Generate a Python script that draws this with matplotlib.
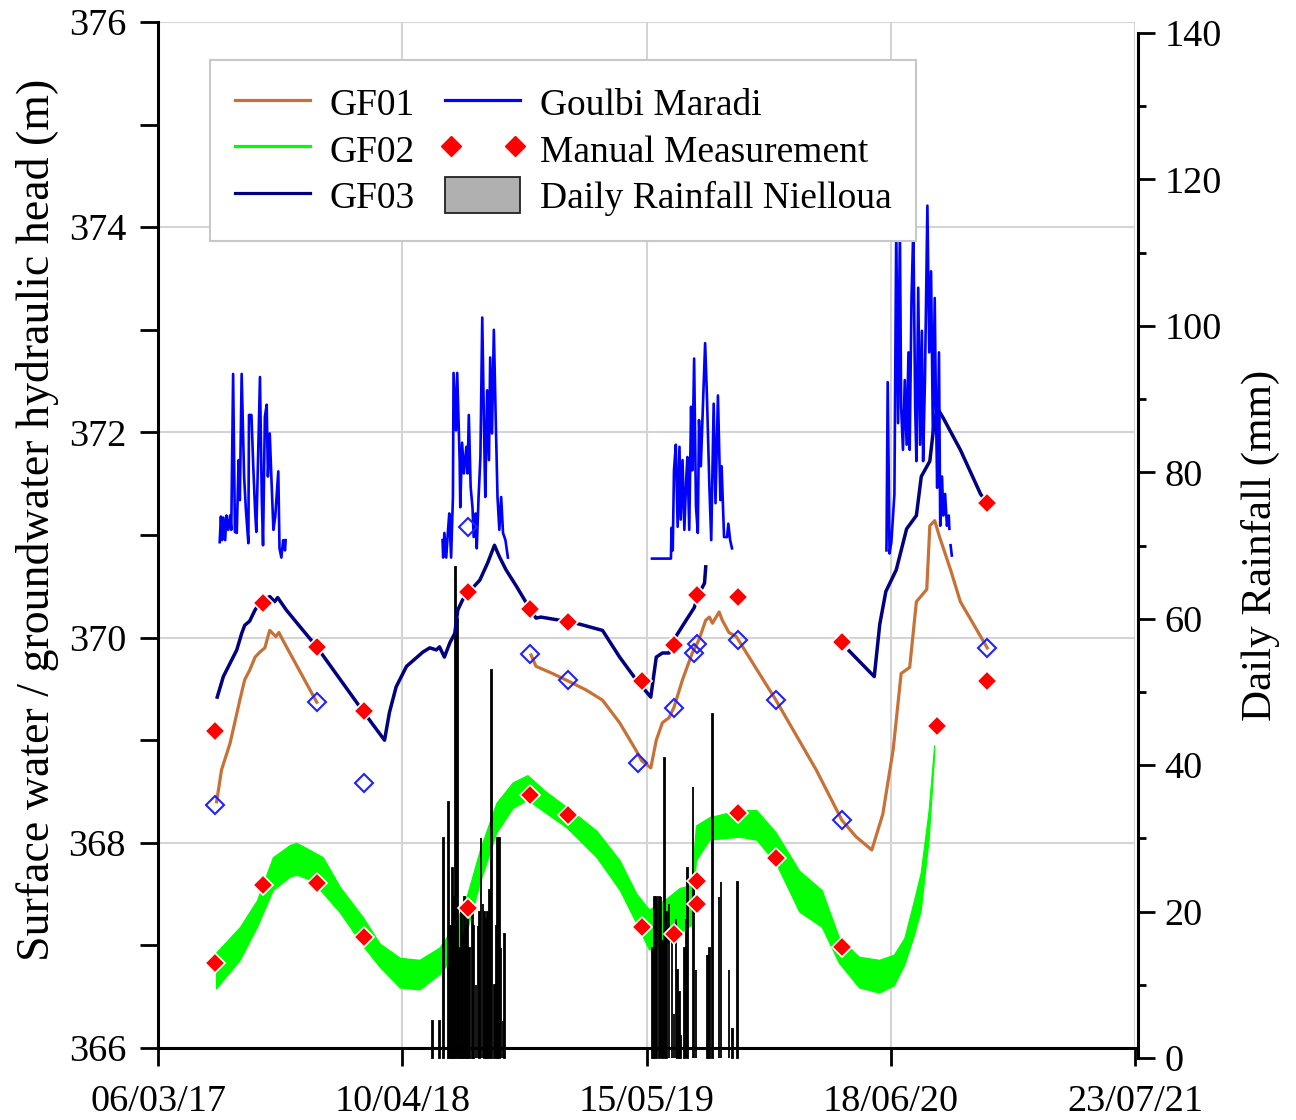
import numpy as np
import matplotlib
matplotlib.use('Agg')
import matplotlib.pyplot as plt
import matplotlib.dates as mdates
from matplotlib.ticker import MultipleLocator, FixedLocator
from matplotlib.lines import Line2D
from matplotlib.patches import Patch
from matplotlib.legend_handler import HandlerLine2D
import datetime as dt

plt.rcParams['font.family'] = ['Liberation Serif', 'DejaVu Serif']

# ---------------- data (days counted from 2017-03-06) ----------------
START = dt.date(2017, 3, 6)
x_tick_days = [0, 400, 800, 1200, 1600]
x_tick_labels = ['06/03/17', '10/04/18', '15/05/19', '18/06/20', '23/07/21']

# GF01 (two records)
gf01_a_days = [96, 104, 118, 134, 142, 150, 159, 167, 175, 180, 183, 188, 193, 198, 204, 260]
gf01_a_vals = [368.40, 368.71, 368.97, 369.39, 369.59, 369.68, 369.81, 369.86, 369.90, 370.01,
               370.07, 370.04, 370.01, 370.05, 369.98, 369.37]
gf01_b_days = [611, 619, 646, 674, 701, 728, 756, 783, 792, 807, 816, 826, 837, 845, 859, 875,
               886, 897, 903, 908, 914, 919, 924, 935, 947, 1012, 1078, 1120, 1143, 1169, 1187,
               1204, 1217, 1231, 1242, 1259, 1264, 1272, 1280, 1298, 1314, 1358]
gf01_b_vals = [369.83, 369.72, 369.65, 369.57, 369.49, 369.39, 369.17, 368.90, 368.80, 368.73,
               369.00, 369.17, 369.22, 369.32, 369.59, 369.85, 369.98, 370.17, 370.20, 370.14,
               370.20, 370.25, 370.17, 370.05, 370.01, 369.39, 368.71, 368.22, 368.06, 367.93,
               368.28, 368.91, 369.65, 369.71, 370.35, 370.47, 371.09, 371.14, 370.98, 370.66,
               370.35, 369.90]

# GF02 (daily fluctuating band: upper and lower envelope)
gf02_days = [95, 134, 162, 188, 216, 227, 249, 270, 298, 335, 363, 396, 428, 461, 486, 507, 527,
             554, 581, 605, 633, 669, 718, 756, 783, 804, 829, 854, 873, 881, 903, 952, 980, 1012,
             1050, 1087, 1115, 1148, 1181, 1205, 1222, 1238, 1249, 1262, 1271]
gf02_high = [366.93, 367.18, 367.44, 367.86, 367.98, 368.00, 367.93, 367.86, 367.57, 367.28,
             367.02, 366.88, 366.86, 366.98, 367.20, 367.51, 367.93, 368.39, 368.59, 368.66,
             368.51, 368.35, 368.12, 367.83, 367.51, 367.35, 367.44, 367.56, 367.59, 368.17,
             368.25, 368.32, 368.32, 368.10, 367.73, 367.54, 367.08, 366.89, 366.86, 366.91,
             367.07, 367.44, 367.71, 368.32, 368.95]
gf02_low = [366.58, 366.86, 367.18, 367.54, 367.67, 367.69, 367.64, 367.51, 367.32, 367.00,
            366.79, 366.59, 366.57, 366.72, 366.91, 367.17, 367.61, 368.10, 368.34, 368.42,
            368.30, 368.15, 367.86, 367.54, 367.22, 366.96, 367.00, 367.12, 367.20, 367.83,
            368.03, 368.06, 368.03, 367.80, 367.33, 367.18, 366.83, 366.59, 366.54, 366.61,
            366.81, 367.10, 367.34, 368.03, 368.85]

# GF03 (two records)
gf03_a_days = [97, 107, 118, 129, 137, 142, 150, 159, 167, 183, 191, 196, 210, 232, 260, 336, 371,
               379, 390, 407, 434, 445, 456, 461, 469, 478, 486, 491, 499, 510, 527, 540, 551,
               559, 570, 587, 603, 619, 627, 657, 685, 728, 756, 783, 807, 816, 826, 837, 848,
               865, 878, 886, 895, 897]
gf03_a_vals = [369.42, 369.62, 369.75, 369.88, 370.04, 370.12, 370.16, 370.27, 370.34, 370.40,
               370.35, 370.39, 370.27, 370.11, 369.91, 369.28, 369.00, 369.27, 369.52, 369.72,
               369.86, 369.90, 369.88, 369.91, 369.81, 369.95, 370.04, 370.27, 370.37, 370.45,
               370.56, 370.73, 370.90, 370.79, 370.66, 370.50, 370.34, 370.19, 370.20, 370.17,
               370.14, 370.07, 369.81, 369.59, 369.42, 369.81, 369.85, 369.85, 370.01, 370.17,
               370.29, 370.43, 370.53, 370.69]
gf03_b_days = [1132, 1173, 1182, 1192, 1209, 1226, 1242, 1250, 1264, 1272, 1278, 1286, 1314, 1347, 1358]
gf03_b_vals = [369.87, 369.62, 370.13, 370.45, 370.66, 371.06, 371.19, 371.57, 371.72, 372.14,
               372.22, 372.14, 371.83, 371.40, 371.31]

# Goulbi Maradi (river level, rainy seasons)
goulbi17_days = [101, 103, 105, 107, 110, 112, 115, 118, 120, 123, 126, 129, 132, 134, 137, 141,
                 144, 148, 149, 153, 156, 159, 161, 167, 170, 172, 175, 178, 180, 183, 186, 189,
                 192, 197, 199, 202, 205, 208, 209]
goulbi17_vals = [370.93, 371.18, 370.95, 371.17, 370.95, 371.19, 371.05, 371.19, 371.05, 372.57,
                 371.03, 371.02, 371.73, 371.34, 372.57, 371.57, 371.24, 370.92, 372.17, 372.17,
                 371.67, 371.24, 371.03, 372.54, 371.34, 370.90, 372.15, 372.27, 371.57, 371.99,
                 371.51, 371.05, 371.18, 371.62, 370.87, 370.78, 370.95, 370.85, 370.95]
goulbi18_days = [466, 467, 469, 472, 475, 477, 480, 483, 484, 488, 490, 494, 495, 498, 501, 505,
                 507, 509, 512, 515, 517, 520, 522, 525, 528, 531, 535, 536, 539, 542, 544, 547,
                 550, 553, 556, 559, 562, 565, 569, 573]
goulbi18_vals = [370.95, 370.78, 371.02, 370.78, 371.05, 371.21, 370.78, 371.37, 372.58, 372.02,
                 372.58, 371.73, 371.27, 371.90, 371.60, 371.86, 371.60, 372.17, 371.47, 371.27,
                 370.98, 371.21, 370.87, 371.37, 371.76, 373.12, 371.66, 371.37, 372.41, 371.73,
                 372.73, 371.99, 373.00, 372.15, 371.37, 371.05, 371.37, 371.02, 370.95, 370.78]
goulbi19_days = [809, 840, 841, 843, 845, 848, 851, 854, 856, 859, 862, 865, 867, 870, 873, 875,
                 878, 881, 884, 886, 889, 892, 896, 899, 903, 906, 910, 913, 917, 921, 923, 927,
                 932, 934, 937, 940]
goulbi19_vals = [370.77, 370.77, 371.07, 370.85, 371.63, 371.88, 371.08, 371.86, 371.15, 371.73,
                 371.05, 371.54, 371.76, 371.05, 372.25, 371.63, 372.72, 371.28, 371.02, 372.12,
                 371.67, 372.19, 372.87, 372.35, 371.47, 370.95, 372.28, 371.31, 372.36, 371.34,
                 371.67, 370.98, 370.98, 371.11, 370.95, 370.87]
goulbi20_days = [1193, 1195, 1198, 1201, 1206, 1209, 1212, 1215, 1217, 1220, 1223, 1226, 1229,
                 1231, 1234, 1237, 1240, 1242, 1245, 1248, 1251, 1253, 1256, 1260, 1263, 1266,
                 1269, 1272, 1274, 1276, 1279, 1281, 1284, 1286, 1289, 1292, 1295, 1296]
goulbi20_vals = [370.85, 372.49, 370.82, 370.93, 371.40, 374.00, 372.09, 374.00, 372.25, 371.83,
                 372.51, 371.88, 372.78, 371.83, 373.31, 374.00, 372.25, 371.72, 373.41, 371.88,
                 372.99, 371.72, 372.51, 374.21, 372.78, 373.57, 371.98, 373.31, 372.25, 371.46,
                 372.78, 371.09, 371.57, 371.19, 371.40, 371.09, 371.19, 371.06]
goulbi20b_days = [1298, 1300]
goulbi20b_vals = [370.90, 370.80]

# Manual measurements (filled red) and logger-time check values (open blue)
manual_days = [94, 172, 260, 337, 508, 610, 671, 792, 845, 882, 950, 1120, 1276, 1358, 1358,
               94, 172, 260, 337, 508, 610, 671, 792, 845, 882, 882, 950, 1012, 1120]
manual_vals = [369.09, 370.34, 369.91, 369.28, 370.44, 370.28, 370.15, 369.58, 369.93, 370.42,
               370.40, 369.96, 369.14, 371.31, 369.58,
               366.83, 367.59, 367.61, 367.08, 367.36, 368.47, 368.27, 367.18, 367.11, 367.63,
               367.40, 368.29, 367.85, 366.98]
open_days = [94, 260, 337, 508, 610, 671, 786, 845, 878, 882, 950, 1012, 1120, 1358]
open_vals = [368.37, 369.37, 368.58, 371.08, 369.84, 369.59, 368.78, 369.31, 369.85, 369.94,
             369.98, 369.39, 368.22, 369.90]

# Daily rainfall Nielloua (mm)
rain_days = [450, 461, 468, 476, 479, 482, 484, 487, 490, 494, 497, 499, 502, 505, 507, 510, 515,
             517, 521, 524, 527, 529, 532, 535, 538, 540, 543, 546, 551, 554, 556, 559, 562, 565,
             567,
             810, 813, 816, 821, 824, 826, 829, 833, 837, 842, 845, 848, 851, 854, 856, 862, 865,
             867, 876, 878, 881, 900, 903, 908, 919, 922, 935, 941, 949]
rain_mm = [5, 5, 30, 35, 18, 26, 22, 67, 60, 15, 20, 17, 22, 18, 20, 15, 20, 18, 10, 18, 20, 30,
           21, 20, 19, 20, 23, 53, 10, 18, 30, 30, 15, 5, 17,
           15, 22, 22, 22, 22, 16, 41, 20, 21, 16, 6, 19, 12, 9, 3, 15, 19, 26, 37, 24, 12, 14,
           15, 47, 22, 24, 12, 4, 24]

# ---------------- figure ----------------
base = mdates.date2num(START)


def X(days):
    return base + np.asarray(days, dtype=float)


W, H = 1296, 1120
axL, axR, axT, axB = 158, 1135, 22, 1048
dx, dy = 3, 10
fig = plt.figure(figsize=(W / 100, H / 100), dpi=100)
ax = fig.add_axes([axL / W, 1 - axB / H, (axR - axL) / W, (axB - axT) / H])
ax2 = fig.add_axes([(axL + dx) / W, 1 - (axB + dy) / H, (axR - axL) / W, (axB - axT - 1) / H])

xmin, xmax = X(x_tick_days[0]), X(x_tick_days[-1])
dpp = (xmax - xmin) / (axR - axL)
ax.set_xlim(xmin, xmax)
ax.set_ylim(366, 376)
ax2.set_xlim(xmin + dx * dpp, xmax + dx * dpp)
ax2.set_ylim(0, 140)

C_GF01 = '#C87137'
C_GF02 = '#00FF00'
C_GF03 = '#000080'
C_GOU = '#0000FF'

ax.grid(True, which='major', color='#d4d4d4', lw=1.5)
ax.set_axisbelow(True)

# GF02 band
ax.fill_between(X(gf02_days), gf02_low, gf02_high, color=C_GF02, lw=0.8, zorder=1.2)

# rainfall bars drawn in the rainfall axes' coordinates
ax.bar(X(rain_days), rain_mm, width=1.0, color='#b0b0b0', edgecolor='black', linewidth=1.3,
       transform=ax2.transData, clip_on=False, zorder=1.5)

ax.plot(X(gf01_a_days), gf01_a_vals, color=C_GF01, lw=2.3, zorder=2)
ax.plot(X(gf01_b_days), gf01_b_vals, color=C_GF01, lw=2.3, zorder=2)
ax.plot(X(gf03_a_days), gf03_a_vals, color=C_GF03, lw=2.5, zorder=2.1)
ax.plot(X(gf03_b_days), gf03_b_vals, color=C_GF03, lw=2.5, zorder=2.1)
for d, v in [(goulbi17_days, goulbi17_vals), (goulbi18_days, goulbi18_vals),
             (goulbi19_days, goulbi19_vals), (goulbi20_days, goulbi20_vals),
             (goulbi20b_days, goulbi20b_vals)]:
    ax.plot(X(d), v, color=C_GOU, lw=1.9, zorder=2.2)

ax.plot(X(open_days), open_vals, ls='none', marker='D', ms=9.5, mfc='none', mec='#2020ff',
        mew=1.5, zorder=3)
ax.plot(X(manual_days), manual_vals, ls='none', marker='D', ms=10.5, mfc='#ff0000', mec='white',
        mew=1.2, zorder=3.5)

# axes styling
for s in ['top', 'right']:
    ax.spines[s].set_visible(False)
for s in ['left', 'bottom']:
    ax.spines[s].set_linewidth(2.2)
ax.xaxis.set_major_locator(FixedLocator(list(X(x_tick_days))))
ax.set_xticklabels(x_tick_labels)
ax.yaxis.set_major_locator(MultipleLocator(2))
ax.yaxis.set_minor_locator(MultipleLocator(1))
ax.tick_params(axis='both', which='major', direction='out', length=13, width=2, labelsize=27.5)
ax.tick_params(axis='y', which='minor', direction='out', length=13, width=2)
ax.tick_params(axis='x', pad=13)
ax.tick_params(axis='y', pad=10)
ax.set_ylabel('Surface water / groundwater hydraulic head (m)', fontsize=33)
ax.yaxis.set_label_coords(-0.101, 0.515)

ax2.patch.set_visible(False)
for s in ['top', 'left', 'bottom']:
    ax2.spines[s].set_visible(False)
ax2.spines['right'].set_linewidth(2.2)
ax2.xaxis.set_visible(False)
ax2.yaxis.tick_right()
ax2.yaxis.set_label_position('right')
ax2.yaxis.set_major_locator(MultipleLocator(20))
ax2.yaxis.set_minor_locator(MultipleLocator(10))
ax2.tick_params(axis='y', which='major', direction='out', length=12, width=2, labelsize=27.5, pad=7)
ax2.tick_params(axis='y', which='minor', direction='out', length=6, width=2)
ax2.set_ylabel('Daily Rainfall (mm)', fontsize=31, labelpad=14)

manual_handle = Line2D([], [], ls='none', marker='D', ms=10, mfc='#ff0000', mec='#ff0000')
handles = [Line2D([], [], color=C_GF01, lw=2.3),
           Line2D([], [], color=C_GF02, lw=2.3),
           Line2D([], [], color=C_GF03, lw=2.3),
           Line2D([], [], color=C_GOU, lw=2.3),
           manual_handle,
           Patch(facecolor='#b0b0b0', edgecolor='#222222', lw=1.3)]
labels = ['GF01', 'GF02', 'GF03', 'Goulbi Maradi', 'Manual Measurement', 'Daily Rainfall Nielloua']
leg = ax.legend(handles, labels, ncol=2, loc='upper left', bbox_to_anchor=(0.053, 0.963),
                borderaxespad=0, fontsize=27, frameon=True, fancybox=False, framealpha=1,
                edgecolor='#c8c8c8', handlelength=2.0, handletextpad=0.52, columnspacing=0.83,
                labelspacing=0.2, handleheight=1.1, borderpad=0.66, numpoints=1,
                handler_map={manual_handle: HandlerLine2D(numpoints=2, marker_pad=0.15)})
leg.get_frame().set_linewidth(1.5)
leg.set_zorder(10)

fig.savefig('out.png', dpi=100)
